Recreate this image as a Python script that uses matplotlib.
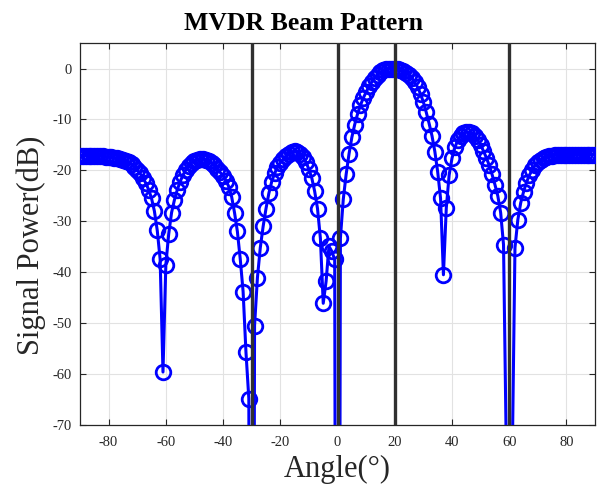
import numpy as np
import matplotlib.pyplot as plt

# Scan angles (deg) and MVDR beam pattern (dB)
angles = list(range(-90, 91))

power_db = [
    # -90 .. -76
    -17.1, -17.1, -17.1, -17.1, -17.1, -17.1, -17.2, -17.2, -17.2, -17.3,
    -17.3, -17.4, -17.5, -17.6, -17.7,
    # -75 .. -61
    -17.9, -18.1, -18.4, -18.8, -19.3, -19.9, -20.6, -21.5, -22.5, -23.8,
    -25.5, -28.0, -31.8, -37.4, -59.6,
    # -60 .. -46
    -38.5, -32.5, -28.3, -25.8, -23.8, -22.2, -20.9, -19.9, -19.1, -18.5,
    -18.1, -17.9, -17.8, -17.8, -17.9,
    # -45 .. -31
    -18.2, -18.5, -19.0, -19.7, -20.4, -21.1, -22.0, -23.2, -25.2, -28.3,
    -32.0, -37.4, -43.8, -55.7, -64.8,
    # -30 .. -16
    -300.0, -50.5, -41.1, -35.2, -31.0, -27.5, -24.5, -22.2, -20.6, -19.4,
    -18.5, -17.8, -17.2, -16.8, -16.4,
    # -15 .. -1
    -16.2, -16.3, -16.7, -17.4, -18.4, -19.8, -21.5, -24.1, -27.5, -33.3,
    -46.1, -41.8, -34.9, -35.9, -37.5,
    # 0 .. 20
    -300.0, -33.3, -25.7, -20.8, -16.8, -13.5, -11.0, -8.9, -7.2, -5.8,
    -4.6, -3.5, -2.6, -1.8, -1.2, -0.7, -0.35, -0.12, -0.02, 0.0, -0.02,
    # 21 .. 40
    -0.1, -0.25, -0.5, -0.85, -1.3, -1.9, -2.7, -3.7, -5.0, -6.6,
    -8.6, -10.8, -13.2, -16.3, -20.3, -25.5, -40.5, -27.4, -20.9, -17.6,
    # 41 .. 60
    -15.5, -14.1, -13.2, -12.7, -12.5, -12.5, -12.7, -13.2, -14.0, -15.0,
    -16.2, -17.5, -19.0, -20.8, -22.8, -25.0, -28.3, -34.6, -76.0, -300.0,
    # 61 .. 80
    -79.0, -35.2, -29.7, -26.4, -24.2, -22.4, -21.0, -19.9, -19.0, -18.4,
    -17.9, -17.6, -17.4, -17.2, -17.1, -17.0, -17.0, -17.0, -16.9, -16.9,
    # 81 .. 90
    -16.9, -16.9, -16.9, -16.9, -16.9, -16.9, -16.9, -16.9, -16.9, -16.9,
]

# Desired signal and interference directions (deg)
marker_angles = [-30, 0, 20, 60]

x_ticks = [-80, -60, -40, -20, 0, 20, 40, 60, 80]
y_ticks = [-70, -60, -50, -40, -30, -20, -10, 0]

plt.rcParams['font.family'] = ['Liberation Serif', 'DejaVu Serif']
plt.rcParams['axes.unicode_minus'] = False

fig = plt.figure(figsize=(6.06, 4.95), dpi=100)
ax = fig.add_axes([0.132, 0.1414, 0.850, 0.7716])

# Beam pattern
ax.plot(angles, power_db, color='blue', linewidth=2.2, marker='o',
        markersize=10.5, markerfacecolor='none', markeredgewidth=2.0,
        zorder=3)

# Vertical reference lines
for a in marker_angles:
    ax.axvline(a, color='#303030', linewidth=2.4, zorder=4)

# Axes styling (MATLAB-like)
ax.set_xlim(-90, 90)
ax.set_ylim(-70, 5)
ax.set_xticks(x_ticks)
ax.set_yticks(y_ticks)
ax.grid(True, color='#e2e2e2', linewidth=0.8)
ax.set_axisbelow(True)
ax.tick_params(direction='in', top=True, right=True, length=4,
               width=0.8, colors='#262626', labelsize=10.5)
ax.tick_params(axis='x', pad=8)
ax.tick_params(axis='y', pad=6)
for s in ax.spines.values():
    s.set_color('#262626')
    s.set_linewidth(0.9)

# Title is centred on the figure, not on the axes
fig.text(0.5, 0.94, 'MVDR Beam Pattern', fontsize=18.5, fontweight='bold',
         ha='center', va='baseline')
ax.set_xlabel('Angle(°)', fontsize=22, color='#262626', labelpad=4)
ax.set_ylabel('Signal Power(dB)', fontsize=22, color='#262626', labelpad=2)
ax.yaxis.set_label_coords(-0.066, 0.47)

fig.savefig('out.png', dpi=100)
plt.close(fig)
